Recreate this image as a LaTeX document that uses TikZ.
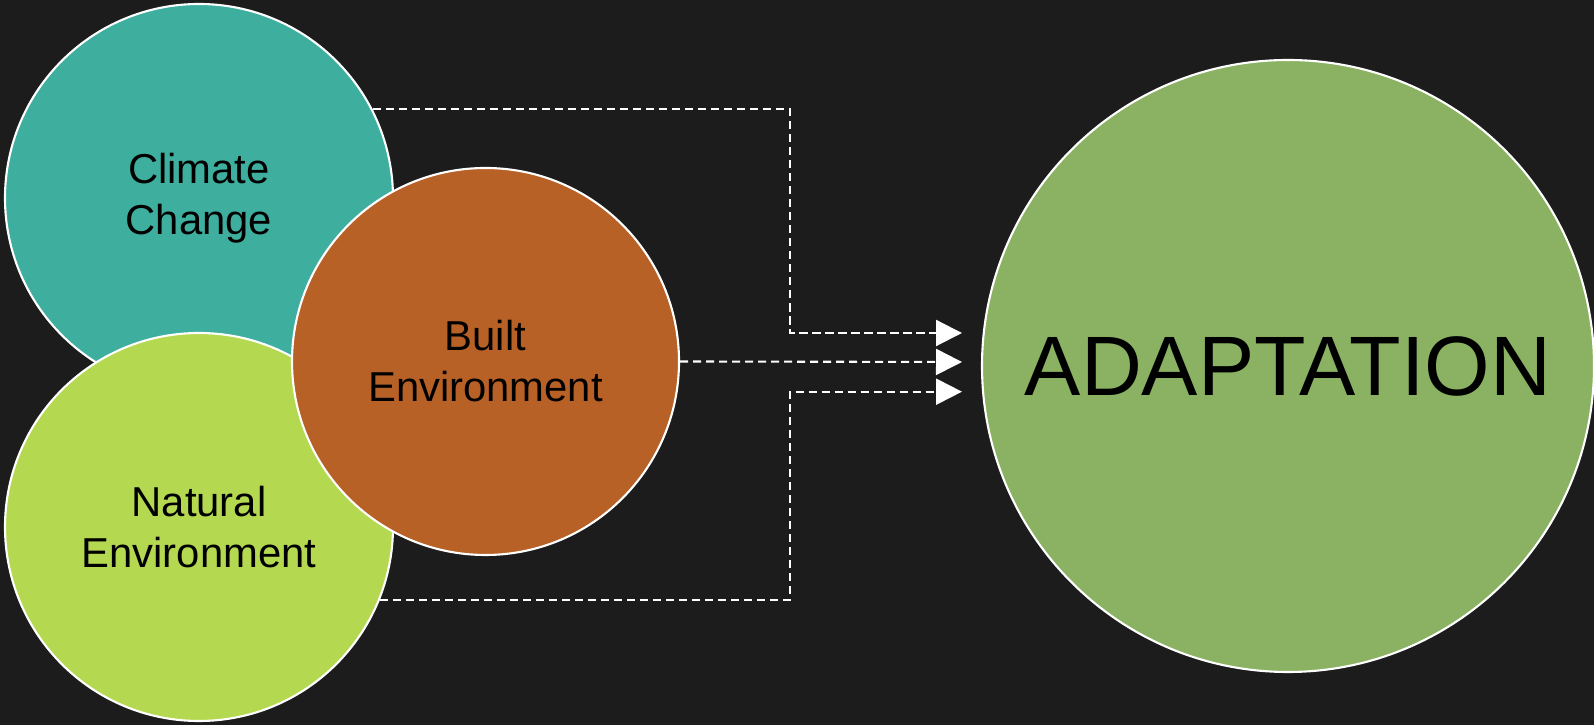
\documentclass[tikz,border=0pt]{standalone}
\usepackage{fontspec}
\setmainfont{Liberation Sans}
\usetikzlibrary{arrows.meta}
\definecolor{bgcol}{HTML}{1C1C1C}
\definecolor{climcol}{HTML}{3EAE9F}
\definecolor{natcol}{HTML}{B5D851}
\definecolor{builtcol}{HTML}{B86127}
\definecolor{adaptcol}{HTML}{8BB262}
\begin{document}
\begin{tikzpicture}[
  bubble/.style={circle, draw=white, line width=0.6pt, inner sep=0pt, align=center,
    text=black, font=\fontsize{11.9}{14.5}\selectfont},
  flow/.style={draw=white, line width=0.6pt, dash pattern=on 2.3pt off 1.4pt,
    -{Triangle[length=7.4pt,width=7.4pt]}}
]
%background
\fill[bgcol] (0,0) rectangle (15.94,7.25);
\useasboundingbox (0,0) rectangle (15.94,7.25);
%circles
\node[bubble, fill=climcol, minimum size=3.88cm] (clim) at (1.99,5.27) {Climate\\Change};
\node[bubble, fill=natcol, minimum size=3.88cm] (nat) at (1.99,1.98) {Natural\\Environment};
\node[bubble, fill=builtcol, minimum size=3.87cm] (built) at (4.855,3.635) {Built\\Environment};
\node[bubble, fill=adaptcol, minimum size=6.12cm, font=\fontsize{24}{28}\selectfont] (adapt) at (12.88,3.59) {ADAPTATION};
%arrows
\coordinate (j) at (7.90,0);
\coordinate (a1) at (9.62,3.92);
\coordinate (a2) at (9.62,3.63);
\coordinate (a3) at (9.62,3.333);
\draw[flow] (clim.27) -- (clim.27 -| j) -- (j |- a1) -- (a1);
\draw[flow] (built.east) -- (a2);
\draw[flow] (nat.-22.4) -- (nat.-22.4 -| j) -- (j |- a3) -- (a3);
\end{tikzpicture}
\end{document}
